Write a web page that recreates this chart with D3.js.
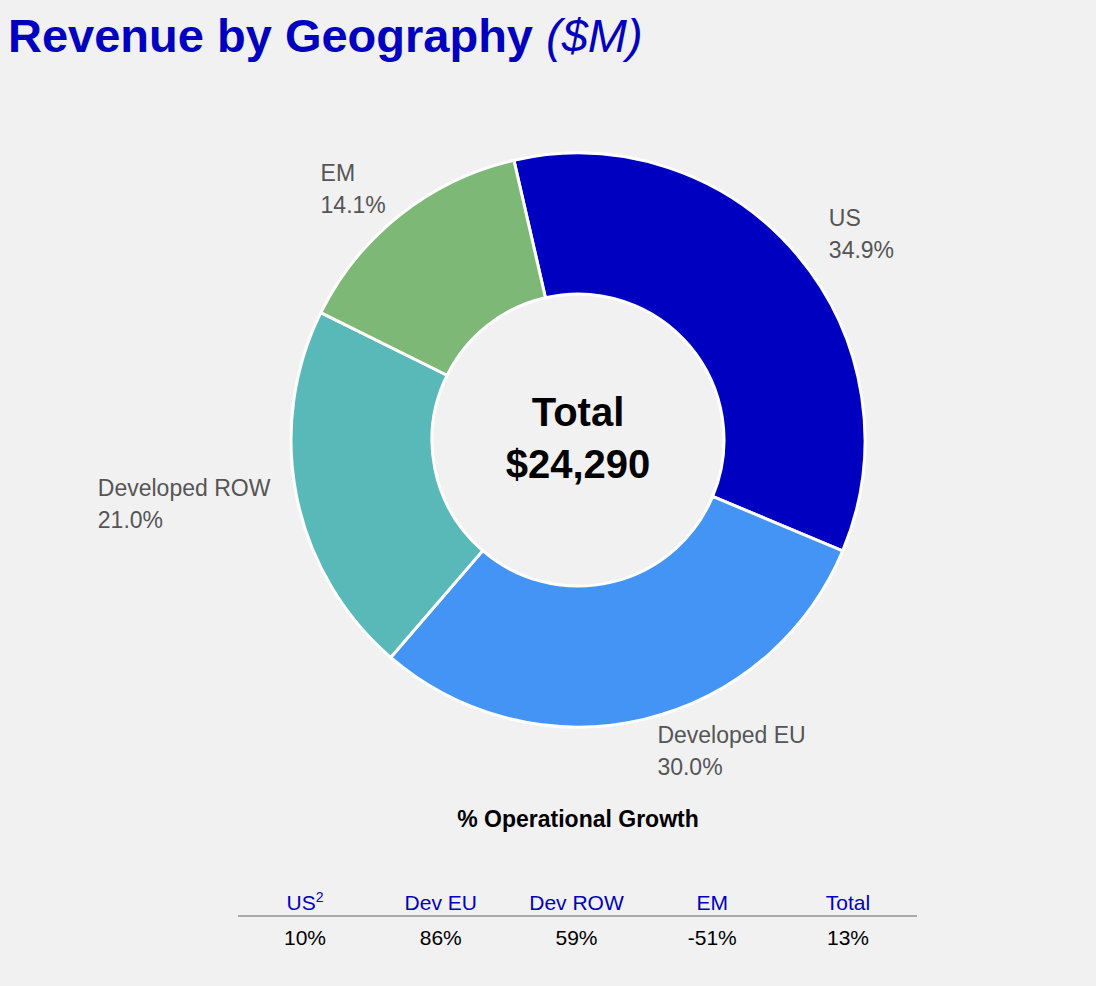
<!DOCTYPE html>
<html><head><meta charset="utf-8">
<script src="https://cdn.jsdelivr.net/npm/d3@7"></script>
<style>body{margin:0;background:#f1f1f1;font-family:"Liberation Sans",Arial,sans-serif}</style>
</head><body><svg id="c" width="1096" height="986"></svg>
<script>
var categories = ["US", "Developed EU", "Developed ROW", "EM"];
var shares = [34.9, 30.0, 21.0, 14.1];
var colors = ["#0000c0", "#4394f5", "#59b9b9", "#7db877"];
var growthHeads = ["US", "Dev EU", "Dev ROW", "EM", "Total"];
var growthVals = ["10%", "86%", "59%", "-51%", "13%"];
var total = "$24,290";

var svg = d3.select("#c");
var cx = 578, cy = 440, R = 287, r = 146;
var start = -12.9 * Math.PI / 180;

var t = svg.append("text").attr("x", 8).attr("y", 52).attr("fill", "#0000c0")
    .attr("font-size", 47).attr("font-weight", "bold");
t.append("tspan").text("Revenue by Geography ");
t.append("tspan").attr("font-style", "italic").attr("font-weight", "normal").text("($M)");

var pie = d3.pie().sort(null).startAngle(start).endAngle(start + 2 * Math.PI);
var arcs = pie(shares);
var arc = d3.arc().innerRadius(r).outerRadius(R);
var g = svg.append("g").attr("transform", "translate(" + cx + "," + cy + ")");
g.selectAll("path").data(arcs).enter().append("path")
    .attr("d", arc).attr("fill", function (d, i) { return colors[i]; })
    .attr("stroke", "#fff").attr("stroke-width", 3);

var lbl = d3.arc().innerRadius(320).outerRadius(320);
arcs.forEach(function (d, i) {
    var p = lbl.centroid(d);
    var tx = g.append("text").attr("fill", "#555").attr("font-size", 23);
    var a = tx.append("tspan").attr("y", p[1] - 8).text(categories[i]);
    var b = tx.append("tspan").attr("y", p[1] + 24).text(shares[i].toFixed(1) + "%");
    var x0 = p[0] + 6;
    if (p[0] < 0) {
        x0 = p[0] + 6 - Math.max(a.node().getComputedTextLength(), b.node().getComputedTextLength());
    }
    a.attr("x", x0); b.attr("x", x0);
});

g.append("text").attr("text-anchor", "middle").attr("y", -14).attr("font-size", 40)
    .attr("font-weight", "bold").text("Total");
g.append("text").attr("text-anchor", "middle").attr("y", 38).attr("font-size", 40)
    .attr("font-weight", "bold").text(total);

svg.append("text").attr("x", cx).attr("y", 827).attr("text-anchor", "middle")
    .attr("font-size", 23).attr("font-weight", "bold").text("% Operational Growth");

var x = d3.scalePoint().domain(growthHeads).range([305, 848]);
svg.append("line").attr("x1", 238).attr("x2", 917).attr("y1", 916).attr("y2", 916)
    .attr("stroke", "#aaa").attr("stroke-width", 2);
growthHeads.forEach(function (h, i) {
    var th = svg.append("text").attr("x", x(h)).attr("y", 910).attr("text-anchor", "middle")
        .attr("fill", "#0000c0").attr("font-size", 21).text(h);
    if (i === 0) { th.append("tspan").attr("dy", -8).attr("font-size", 14).text("2"); }
    svg.append("text").attr("x", x(h)).attr("y", 945).attr("text-anchor", "middle")
        .attr("font-size", 21).text(growthVals[i]);
});
</script></body></html>
